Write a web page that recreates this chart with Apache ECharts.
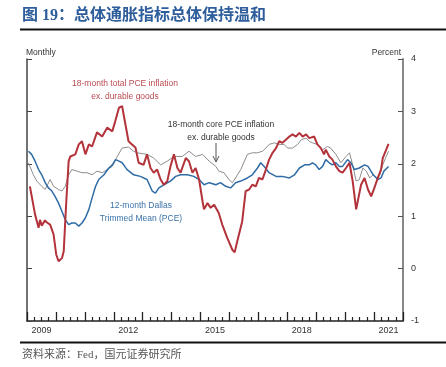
<!DOCTYPE html>
<html>
<head>
<meta charset="utf-8">
<script src="https://cdn.jsdelivr.net/npm/echarts@6/dist/echarts.min.js"></script>
<style>
  html, body { margin: 0; padding: 0; background: #fff; }
  #chart { width: 446px; height: 367px; }
</style>
</head>
<body>
<div id="chart"></div>
<script>
// year labels (one band per year, only every third shown)
let years = ["2009", "2010", "2011", "2012", "2013", "2014", "2015", "2016", "2017", "2018", "2019", "2020", "2021"];
let yTicks = [-1, 0, 1, 2, 3, 4];

// 18-month total PCE ex. durables (red)
let redX = [2009.10, 2009.28, 2009.40, 2009.45, 2009.51, 2009.62, 2009.69, 2009.80, 2009.92, 2010.01, 2010.09, 2010.21, 2010.27, 2010.35, 2010.44, 2010.50, 2010.67, 2010.79, 2010.90, 2011.02, 2011.14, 2011.25, 2011.42, 2011.60, 2011.77, 2011.95, 2012.05, 2012.18, 2012.29, 2012.34, 2012.51, 2012.63, 2012.75, 2012.86, 2013.03, 2013.15, 2013.27, 2013.38, 2013.50, 2013.62, 2013.73, 2013.85, 2013.96, 2014.08, 2014.20, 2014.31, 2014.49, 2014.60, 2014.72, 2014.83, 2014.95, 2015.07, 2015.12, 2015.24, 2015.35, 2015.47, 2015.63, 2015.75, 2015.92, 2016.10, 2016.18, 2016.27, 2016.44, 2016.56, 2016.68, 2016.79, 2016.91, 2017.02, 2017.14, 2017.26, 2017.37, 2017.49, 2017.61, 2017.72, 2017.83, 2017.95, 2018.07, 2018.18, 2018.30, 2018.42, 2018.53, 2018.65, 2018.76, 2018.93, 2019.04, 2019.16, 2019.27, 2019.33, 2019.45, 2019.56, 2019.68, 2019.80, 2019.91, 2020.03, 2020.15, 2020.26, 2020.38, 2020.44, 2020.55, 2020.67, 2020.79, 2020.90, 2021.01, 2021.13, 2021.24, 2021.30, 2021.42, 2021.50];
let redY = [1.57, 1.03, 0.78, 0.93, 0.82, 0.92, 0.88, 0.84, 0.65, 0.27, 0.14, 0.20, 0.33, 1.20, 2.05, 2.14, 2.18, 2.37, 2.43, 2.18, 2.37, 2.33, 2.60, 2.52, 2.69, 2.62, 2.81, 3.07, 3.10, 2.94, 2.43, 2.37, 2.31, 2.02, 1.98, 2.18, 1.92, 1.83, 1.89, 1.70, 1.60, 1.67, 1.95, 2.18, 1.92, 1.83, 2.11, 2.05, 1.83, 1.92, 1.70, 1.28, 1.13, 1.25, 1.16, 1.22, 1.06, 0.84, 0.59, 0.36, 0.31, 0.52, 0.90, 1.48, 1.51, 1.60, 1.57, 1.73, 1.70, 1.89, 2.08, 2.21, 2.30, 2.43, 2.40, 2.46, 2.52, 2.56, 2.52, 2.59, 2.52, 2.56, 2.49, 2.52, 2.37, 2.30, 2.18, 2.27, 2.14, 2.08, 1.95, 1.86, 1.83, 1.92, 2.02, 1.67, 1.13, 1.16, 1.60, 1.73, 1.51, 1.38, 1.54, 1.73, 1.89, 2.11, 2.27, 2.38];

// 18-month core PCE ex. durables (gray)
let grayX = [2009.05, 2009.10, 2009.22, 2009.34, 2009.51, 2009.63, 2009.80, 2009.92, 2010.09, 2010.21, 2010.32, 2010.44, 2010.55, 2010.73, 2010.90, 2011.08, 2011.25, 2011.42, 2011.60, 2011.77, 2011.95, 2012.12, 2012.29, 2012.51, 2012.69, 2012.81, 2013.15, 2013.38, 2013.62, 2013.85, 2014.08, 2014.37, 2014.60, 2014.83, 2015.07, 2015.30, 2015.53, 2015.63, 2015.81, 2015.98, 2016.10, 2016.21, 2016.39, 2016.62, 2016.79, 2016.97, 2017.14, 2017.26, 2017.37, 2017.55, 2017.72, 2017.89, 2018.01, 2018.18, 2018.36, 2018.48, 2018.65, 2018.76, 2018.87, 2019.04, 2019.22, 2019.39, 2019.50, 2019.68, 2019.85, 2020.03, 2020.15, 2020.26, 2020.38, 2020.49, 2020.61, 2020.73, 2020.85, 2020.97, 2021.08, 2021.20, 2021.30, 2021.42, 2021.50];
let grayY = [2.02, 1.95, 1.79, 1.67, 1.57, 1.51, 1.70, 1.57, 1.51, 1.48, 1.57, 1.79, 1.89, 1.86, 1.83, 1.83, 1.79, 1.86, 1.83, 1.89, 1.95, 2.14, 2.30, 2.32, 2.24, 2.21, 2.18, 2.11, 1.98, 2.05, 2.14, 2.14, 2.24, 2.14, 2.18, 2.05, 1.95, 1.86, 1.83, 1.70, 1.64, 1.73, 1.89, 2.18, 2.21, 2.21, 2.24, 2.30, 2.37, 2.40, 2.37, 2.37, 2.30, 2.30, 2.37, 2.46, 2.49, 2.43, 2.40, 2.37, 2.27, 2.33, 2.30, 2.18, 2.02, 2.14, 2.21, 1.98, 1.67, 1.70, 1.92, 1.86, 1.73, 1.79, 1.73, 1.79, 1.98, 2.14, 2.24];

// 12-month Dallas trimmed mean PCE (blue)
let blueX = [2009.05, 2009.16, 2009.28, 2009.40, 2009.51, 2009.63, 2009.74, 2009.86, 2009.97, 2010.09, 2010.21, 2010.32, 2010.44, 2010.55, 2010.67, 2010.79, 2010.90, 2011.02, 2011.14, 2011.25, 2011.37, 2011.48, 2011.66, 2011.83, 2011.95, 2012.06, 2012.18, 2012.29, 2012.46, 2012.69, 2012.92, 2013.15, 2013.33, 2013.44, 2013.56, 2013.73, 2013.96, 2014.14, 2014.31, 2014.54, 2014.77, 2014.95, 2015.12, 2015.30, 2015.53, 2015.69, 2015.87, 2016.04, 2016.21, 2016.39, 2016.62, 2016.79, 2016.97, 2017.08, 2017.20, 2017.37, 2017.61, 2017.83, 2018.07, 2018.25, 2018.42, 2018.60, 2018.76, 2018.87, 2018.98, 2019.10, 2019.22, 2019.33, 2019.45, 2019.56, 2019.68, 2019.80, 2019.91, 2020.08, 2020.20, 2020.32, 2020.49, 2020.67, 2020.79, 2020.97, 2021.13, 2021.24, 2021.34, 2021.50];
let blueY = [2.24, 2.18, 2.05, 1.89, 1.79, 1.64, 1.54, 1.48, 1.38, 1.25, 1.09, 0.94, 0.84, 0.87, 0.87, 0.81, 0.87, 0.97, 1.13, 1.35, 1.57, 1.70, 1.79, 1.92, 1.98, 2.08, 2.05, 2.02, 1.89, 1.79, 1.76, 1.70, 1.48, 1.44, 1.54, 1.60, 1.67, 1.76, 1.79, 1.79, 1.76, 1.70, 1.60, 1.64, 1.60, 1.64, 1.57, 1.54, 1.64, 1.67, 1.73, 1.79, 1.92, 2.02, 1.95, 1.83, 1.76, 1.76, 1.73, 1.79, 1.92, 1.98, 1.98, 2.02, 1.98, 1.89, 1.95, 2.08, 2.02, 1.98, 2.02, 1.95, 1.95, 2.08, 2.02, 1.89, 1.92, 1.98, 1.95, 1.79, 1.70, 1.73, 1.86, 1.95];

function zip(xs, ys) {
  return xs.map((x, i) => [x, ys[i]]);
}

let chart = echarts.init(document.getElementById("chart"));

let txt = "#333";
let sans = "Liberation Sans, Arial, sans-serif";

chart.setOption({
  animation: false,
  grid: { left: 27, right: 43, top: 59, bottom: 46 },
  xAxis: [
    {
      type: "value",
      min: 2009,
      max: 2022,
      interval: 1,
      axisLine: { show: true, onZero: false, lineStyle: { color: "#222", width: 1.5 } },
      axisTick: { show: true, inside: true, length: 9, lineStyle: { color: "#222", width: 1.3 } },
      minorTick: { show: true, splitNumber: 4, length: 4, lineStyle: { color: "#222", width: 1.2 } },
      axisLabel: { show: false },
      splitLine: { show: false },
    },
    {
      type: "category",
      data: years,
      position: "bottom",
      boundaryGap: true,
      axisLine: { show: false },
      axisTick: { show: false },
      axisLabel: {
        interval: function (i) { return i % 3 === 0; },
        color: txt,
        fontSize: 9,
        fontFamily: sans,
        margin: 5,
      },
    },
  ],
  yAxis: [
    {
      type: "value",
      position: "right",
      min: yTicks[0],
      max: yTicks[yTicks.length - 1],
      interval: 1,
      axisLine: { show: true, lineStyle: { color: "#888", width: 2 } },
      axisTick: { show: true, inside: true, length: 5, lineStyle: { color: "#555", width: 1 } },
      axisLabel: { color: txt, fontSize: 9, fontFamily: sans, margin: 8 },
      splitLine: { show: false },
    },
    {
      type: "value",
      position: "left",
      min: yTicks[0],
      max: yTicks[yTicks.length - 1],
      interval: 1,
      axisLine: { show: true, lineStyle: { color: "#444", width: 1.5 } },
      axisTick: { show: true, inside: true, length: 5, lineStyle: { color: "#444", width: 1 } },
      axisLabel: { show: false },
      splitLine: { show: false },
    },
  ],
  series: [
    {
      name: "core",
      type: "line",
      showSymbol: false,
      data: zip(grayX, grayY),
      lineStyle: { color: "#8c8c8c", width: 1 },
      z: 2,
    },
    {
      name: "dallas",
      type: "line",
      showSymbol: false,
      data: zip(blueX, blueY),
      lineStyle: { color: "#2f6ca6", width: 1.5 },
      z: 3,
    },
    {
      name: "total",
      type: "line",
      showSymbol: false,
      data: zip(redX, redY),
      lineStyle: { color: "#b3333b", width: 2 },
      z: 4,
    },
  ],
  graphic: [
    {
      type: "text", left: 22, top: 8,
      style: { text: "图 19：总体通胀指标总体保持温和", fill: "#2d5d9a", font: "bold 16px 'Liberation Serif', 'Noto Sans CJK SC'" },
    },
    { type: "rect", shape: { x: 20, y: 28.5, width: 426, height: 2 }, style: { fill: "#111" } },
    { type: "rect", shape: { x: 20, y: 341.5, width: 426, height: 2 }, style: { fill: "#111" } },
    {
      type: "text", left: 22, top: 350,
      style: { text: "资料来源：Fed，国元证券研究所", fill: "#555", font: "11px 'Liberation Serif', 'Noto Sans CJK SC'" },
    },
    { type: "text", left: 26, top: 48, style: { text: "Monthly", fill: txt, font: "8.5px " + sans } },
    { type: "text", right: 45, top: 48, style: { text: "Percent", fill: txt, font: "8.5px " + sans } },
    {
      type: "text", x: 125, y: 77,
      style: { text: "18-month total PCE inflation\nex. durable goods", fill: "#bb4a51", font: "8.5px " + sans, align: "center", lineHeight: 13 },
    },
    {
      type: "text", x: 221, y: 118,
      style: { text: "18-month core PCE inflation\nex. durable goods", fill: txt, font: "8.5px " + sans, align: "center", lineHeight: 13 },
    },
    {
      type: "text", x: 141, y: 199,
      style: { text: "12-month Dallas\nTrimmed Mean (PCE)", fill: "#3a72a8", font: "8.5px " + sans, align: "center", lineHeight: 13 },
    },
    { type: "line", shape: { x1: 216, y1: 143, x2: 216, y2: 162 }, style: { stroke: "#555", lineWidth: 1 } },
    { type: "polyline", shape: { points: [[213, 156], [216, 162], [219, 156]] }, style: { stroke: "#555", lineWidth: 1, fill: null } },
  ],
});
</script>
</body>
</html>
